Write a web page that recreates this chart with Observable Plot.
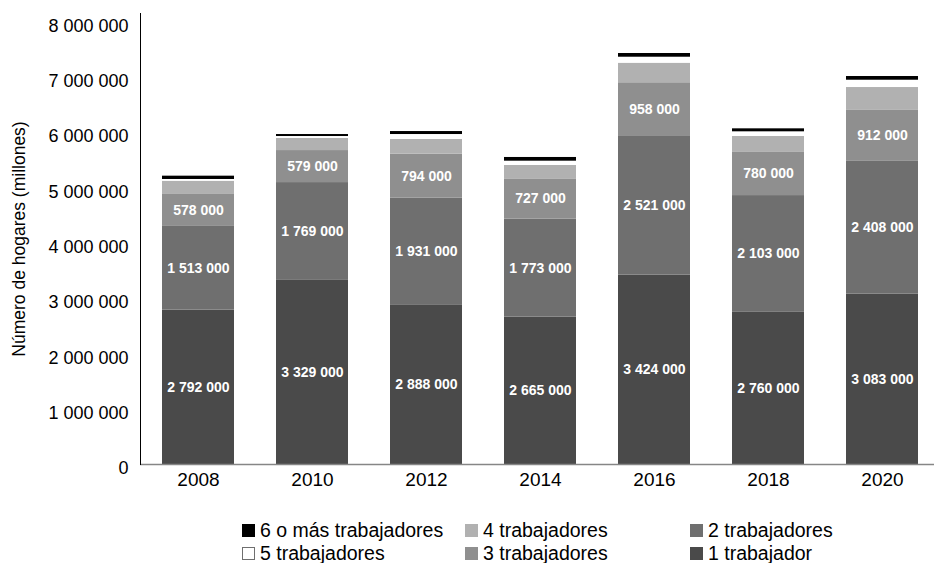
<!DOCTYPE html>
<html>
<head>
<meta charset="utf-8">
<script src="https://cdn.jsdelivr.net/npm/d3@7"></script>
<script src="https://cdn.jsdelivr.net/npm/@observablehq/plot@0.6"></script>
<style>
  html, body { margin: 0; padding: 0; background: #fff; }
  #wrap { position: relative; width: 934px; height: 563px; overflow: hidden; font-family: "Liberation Sans", Arial, sans-serif; }
  #chart { position: absolute; left: 0; top: 0; }
  .lg { position: absolute; display: flex; align-items: center; height: 24px; font-size: 19.5px; color: #000; white-space: nowrap; }
  .sw { width: 13px; height: 13px; margin-right: 5px; box-sizing: border-box; }
</style>
</head>
<body>
<div id="wrap">
  <div id="chart"></div>
</div>
<script>
// ---- data (hogares por número de trabajadores) ----
const years = ["2008", "2010", "2012", "2014", "2016", "2018", "2020"];
const seriesNames = ["1 trabajador", "2 trabajadores", "3 trabajadores", "4 trabajadores", "5 trabajadores", "6 o más trabajadores"];
const trab1 = [2792000, 3329000, 2888000, 2665000, 3424000, 2760000, 3083000];
const trab2 = [1513000, 1769000, 1931000, 1773000, 2521000, 2103000, 2408000];
const trab3 = [578000, 579000, 794000, 727000, 958000, 780000, 912000];
const trab4 = [240000, 218000, 264000, 242000, 354000, 288000, 414000];
const trab5 = [31000, 36000, 90000, 78000, 108000, 85000, 132000];
const trab6 = [60000, 36000, 54000, 67000, 67000, 54000, 67000];
const labeledSeries = ["1 trabajador", "2 trabajadores", "3 trabajadores"];
const yTicks = [0, 1000000, 2000000, 3000000, 4000000, 5000000, 6000000, 7000000, 8000000];
const seriesColors = ["#4a4a4a", "#6f6f6f", "#8f8f8f", "#b1b1b1", "#ffffff", "#000000"];
const yTitle = "Número de hogares (millones)";
// legend layout: columns of series names
const legendColumns = [["6 o más trabajadores", "5 trabajadores"], ["4 trabajadores", "3 trabajadores"], ["2 trabajadores", "1 trabajador"]];

const seriesValues = [trab1, trab2, trab3, trab4, trab5, trab6];
const data = [];
seriesNames.forEach((s, i) => years.forEach((y, j) => data.push({year: y, series: s, value: seriesValues[i][j]})));

const locale = d3.formatLocale({decimal: ",", thousands: " ", grouping: [3], currency: ["", ""]});
const fmt = locale.format(",");

const chart = Plot.plot({
  width: 934,
  height: 505,
  marginLeft: 140,
  marginRight: 0,
  marginTop: 13,
  marginBottom: 41,
  style: {fontFamily: "'Liberation Sans', Arial, sans-serif", color: "#000", background: "transparent", overflow: "visible"},
  x: {domain: years, range: [140, 940], paddingInner: 0.37, paddingOuter: 0.185, label: null},
  y: {domain: [0, 8000000], range: [464, 21.6], label: null},
  color: {domain: seriesNames, range: seriesColors},
  marks: [
    Plot.barY(data, {x: "year", y: "value", fill: "series", order: seriesNames}),
    Plot.text(data, Plot.stackY({
      x: "year", y: "value", z: "series", order: seriesNames,
      text: d => labeledSeries.includes(d.series) ? fmt(d.value) : "",
      fill: "white", fontWeight: "bold", fontSize: 14
    })),
    Plot.ruleY([0], {stroke: "#868686", strokeWidth: 1.3}),
    Plot.frame({anchor: "left", stroke: "#000"}),
    Plot.axisX({tickSize: 0, tickPadding: 8, fontSize: 19, label: null}),
    Plot.axisY({ticks: yTicks, tickFormat: fmt, tickSize: 0, tickPadding: 12, fontSize: 18, dy: 4, label: null}),
    Plot.text([yTitle], {frameAnchor: "left", textAnchor: "middle", lineAnchor: "middle", rotate: -90, dx: -121, fontSize: 17.5, fill: "#000"})
  ]
});
document.getElementById("chart").appendChild(chart);

// legend (HTML, below the plot)
const colorOf = s => seriesColors[seriesNames.indexOf(s)];
const colLeft = [242, 465, 690];
const rowCenter = [530, 553];
const wrap = document.getElementById("wrap");
legendColumns.forEach((col, ci) => col.forEach((name, ri) => {
  const item = document.createElement("div");
  item.className = "lg";
  item.style.left = colLeft[ci] + "px";
  item.style.top = (rowCenter[ri] - 12) + "px";
  const sw = document.createElement("div");
  sw.className = "sw";
  sw.style.background = colorOf(name);
  if (colorOf(name) === "#ffffff") sw.style.border = "1px solid #6f6f6f";
  const tx = document.createElement("span");
  tx.textContent = name;
  item.appendChild(sw);
  item.appendChild(tx);
  wrap.appendChild(item);
}));
</script>
</body>
</html>
